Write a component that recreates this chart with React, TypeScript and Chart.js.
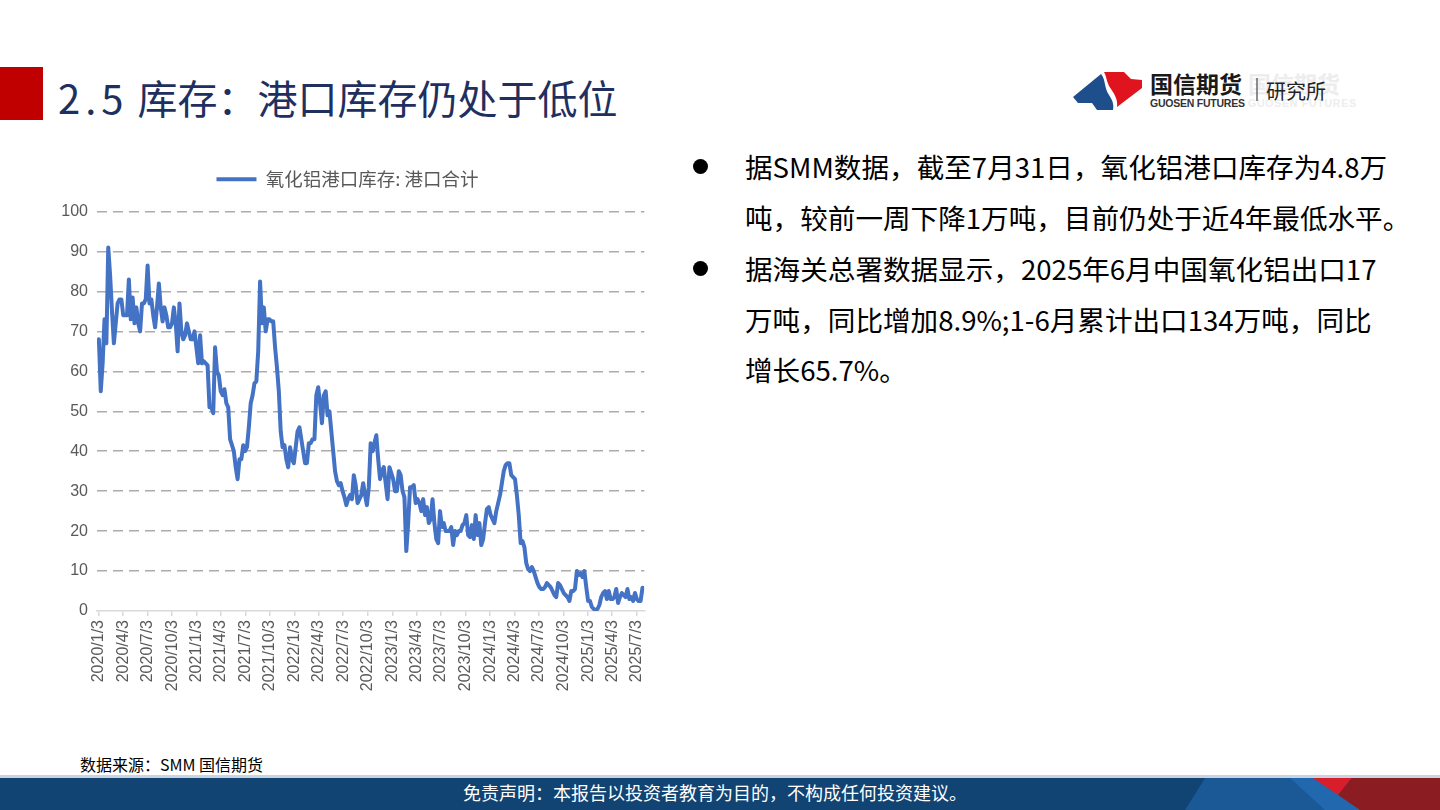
import React, { useEffect, useRef } from "react";
import { Chart, registerables } from "chart.js";

Chart.register(...registerables);

// ---- data (weekly, starting 2020/1/3) ----
const START_DATE = "2020/1/3";
const SERIES_NAME = "氧化铝港口库存: 港口合计";

const weeks2020 = [68, 55, 62, 73, 67, 91, 84, 75, 67, 72, 77, 78, 78, 74, 74, 74, 83, 73, 78.5, 72, 76, 72, 70, 77, 77, 78, 86.5, 77, 78, 74, 71, 76, 82, 76, 72.5, 76, 74, 71, 71, 72, 76, 72, 65, 77, 70, 68, 69, 72, 70, 68, 68, 70];
const weeks2021 = [66, 62, 69, 62, 62.5, 62, 61.5, 51, 51, 49.5, 66, 60, 59, 55, 54, 55.5, 52, 51, 43, 41.5, 40, 36, 33, 38, 38, 41.5, 40, 41, 46, 52, 54, 57, 57.5, 65, 82.5, 72, 76, 70, 73, 73, 72.5, 72.5, 66, 61, 55, 45, 41, 41.5, 38, 36, 41, 38];
const weeks2022 = [37, 41, 45, 46, 43, 40, 37, 37, 42, 42, 43, 43, 54, 56, 52, 47, 54, 55, 49, 50, 45, 40, 35, 32.5, 31.5, 32, 30, 28.5, 26.5, 28, 29, 28, 34, 31.5, 27, 28, 29, 32, 29, 26.5, 31, 42, 40, 42, 44, 38, 33, 35, 36, 32, 28, 36];
const weeks2023 = [34.5, 33, 30, 30, 35, 34, 30, 28.5, 15, 22, 31, 31, 31.5, 27, 28, 27, 25, 28, 24, 26, 22, 23, 28, 22, 18, 17, 25, 21, 22, 20, 20, 20, 21, 16.5, 20, 19, 20, 20, 21.5, 22, 24, 19, 18.5, 21.5, 18, 24, 19, 22, 16.5, 18, 22, 25.5];
const weeks2024 = [26, 24, 23, 22, 25, 27, 29, 32, 35, 36.5, 37, 37, 34, 33.5, 33, 29, 24, 17, 17.5, 16, 12, 10.5, 10, 11, 10, 8.5, 7, 6, 5.5, 5.5, 6, 7, 6.5, 6, 5, 4, 3.5, 7, 6.5, 5.5, 4.5, 4, 3.5, 2.5, 5, 5, 5.5, 10, 9, 9.5, 8.5, 10];
const weeks2025 = [6, 2.5, 2.5, 1, 0.5, 0.3, 0.5, 1.5, 3.5, 4.5, 5, 3, 5, 3, 3, 3.5, 5.5, 2, 3.5, 4.5, 4, 3.5, 5.5, 3, 3.5, 2.5, 4.5, 3, 2.5, 2.5, 5.8];

const X_TICK_LABELS = [
  "2020/1/3", "2020/4/3", "2020/7/3", "2020/10/3",
  "2021/1/3", "2021/4/3", "2021/7/3", "2021/10/3",
  "2022/1/3", "2022/4/3", "2022/7/3", "2022/10/3",
  "2023/1/3", "2023/4/3", "2023/7/3", "2023/10/3",
  "2024/1/3", "2024/4/3", "2024/7/3", "2024/10/3",
  "2025/1/3", "2025/4/3", "2025/7/3",
];
const Y_MIN = 0;
const Y_MAX = 100;
const Y_STEP = 10;

const toUTC = (s: string) => {
  const [y, m, d] = s.split("/").map(Number);
  return Date.UTC(y, m - 1, d);
};
const dayOffset = (s: string) => Math.round((toUTC(s) - toUTC(START_DATE)) / 86400000);

const allValues = [...weeks2020, ...weeks2021, ...weeks2022, ...weeks2023, ...weeks2024, ...weeks2025];
const points = allValues.map((v, i) => ({ x: i * 7, y: v }));
const tickDays = X_TICK_LABELS.map(dayOffset);

const FONT = '"Liberation Sans", "Noto Sans CJK SC", sans-serif';
const CJK = '"Noto Sans CJK SC", "Liberation Sans", sans-serif';

const legendGap = {
  id: "legendGap",
  beforeInit(chart: any) {
    const legend = chart.legend;
    if (!legend) return;
    const origFit = legend.fit;
    legend.fit = function () {
      origFit.call(this);
      this.height += 13;
    };
  },
};

function InventoryChart() {
  const ref = useRef<HTMLCanvasElement | null>(null);
  useEffect(() => {
    if (!ref.current) return;
    const chart = new Chart(ref.current, {
      type: "line",
      data: {
        datasets: [
          {
            label: SERIES_NAME,
            data: points,
            borderColor: "#4472C4",
            backgroundColor: "#4472C4",
            borderWidth: 4,
            pointRadius: 0,
            tension: 0,
            borderJoinStyle: "round",
            borderCapStyle: "round",
          },
        ],
      },
      plugins: [legendGap],
      options: {
        responsive: false,
        animation: false,
        layout: { padding: { left: 0, right: 15, top: 4, bottom: 0 } },
        plugins: {
          legend: {
            position: "top",
            labels: {
              usePointStyle: true,
              pointStyle: "line",
              pointStyleWidth: 40,
              color: "#595959",
              font: { size: 18.5, family: CJK },
              padding: 9,
            },
          },
          tooltip: { enabled: false },
        },
        scales: {
          x: {
            type: "linear",
            min: -7,
            max: 2037,
            afterBuildTicks: (s: any) => {
              s.ticks = tickDays.map((v) => ({ value: v }));
            },
            afterFit: (s: any) => {
              s.height = 96;
            },
            ticks: {
              autoSkip: false,
              maxRotation: 90,
              minRotation: 90,
              color: "#595959",
              padding: 4,
              font: { size: 16, family: FONT },
              callback: (_v: any, i: number) => X_TICK_LABELS[i],
            },
            grid: {
              drawOnChartArea: false,
              drawTicks: true,
              tickLength: 5,
              color: "#D9D9D9",
              lineWidth: 1.5,
            },
            border: { display: true, color: "#D9D9D9", width: 1.5 },
          },
          y: {
            min: Y_MIN,
            max: Y_MAX,
            afterFit: (s: any) => {
              s.width = 47;
            },
            ticks: {
              stepSize: Y_STEP,
              color: "#595959",
              padding: 9,
              font: { size: 16, family: FONT },
            },
            grid: {
              drawTicks: false,
              color: (ctx: any) => (ctx.tick && ctx.tick.value === 0 ? "rgba(0,0,0,0)" : "#ABABAB"),
              lineWidth: 1.5,
            },
            border: { display: false, dash: [10, 6] },
          },
        },
      },
    } as any);
    return () => chart.destroy();
  }, []);
  return (
    <canvas
      ref={ref}
      width={610}
      height={550}
      style={{ position: "absolute", left: 50, top: 157, width: 610, height: 550 }}
    />
  );
}

const bulletText = {
  position: "absolute" as const,
  left: 745,
  fontFamily: CJK,
  fontSize: 27.6,
  color: "#000",
  lineHeight: "50.5px",
  whiteSpace: "nowrap" as const,
};

function Bullet({ top }: { top: number }) {
  return (
    <div
      style={{
        position: "absolute",
        left: 693,
        top: top - 7,
        width: 15,
        height: 15,
        borderRadius: "50%",
        background: "#000",
      }}
    />
  );
}

export default function App() {
  return (
    <div
      style={{
        position: "fixed",
        left: 0,
        top: 0,
        width: 1440,
        height: 810,
        background: "#fff",
        overflow: "hidden",
      }}
    >
      {/* title */}
      <div style={{ position: "absolute", left: 0, top: 67, width: 43, height: 53, background: "#C00000" }} />
      <div
        style={{
          position: "absolute",
          left: 58,
          top: 70,
          fontFamily: CJK,
          fontSize: 40,
          lineHeight: "54px",
          color: "#1F3060",
          whiteSpace: "nowrap",
        }}
      >
        <span style={{ letterSpacing: 5 }}>2.5</span> 库存：港口库存仍处于低位
      </div>

      {/* logo */}
      <svg style={{ position: "absolute", left: 0, top: 0 }} width={1440} height={130}>
        <path d="M1073,97 L1101,74 C1106,80 1104,88 1109,95 C1113,101 1114,105 1113,110 L1097,110 L1092,103 L1078,103 Z" fill="#1F4E8C" />
        <path d="M1104,72 L1124,72 L1131,79 L1142,80 L1142,88 L1117,107 C1118,100 1115,95 1111,89 C1106,82 1107,77 1104,72 Z" fill="#E0141E" />
        <text x={1150} y={93} fontFamily={CJK} fontWeight={700} fontSize={23} fill="#1a1a1a">国信期货</text>
        <text x={1150} y={107} fontFamily={FONT} fontWeight={700} fontSize={10.5} fill="#333" textLength={95}>GUOSEN FUTURES</text>
        <text x={1248} y={93} fontFamily={CJK} fontWeight={700} fontSize={23} fill="#EDEDED">国信期货</text>
        <text x={1248} y={107} fontFamily={FONT} fontWeight={700} fontSize={10.5} fill="#EDEDED" textLength={108}>GUOSEN FUTURES</text>
        <line x1={1257} y1={78} x2={1257} y2={101} stroke="#444" strokeWidth={1.2} />
        <text x={1266} y={99} fontFamily={CJK} fontSize={20} fill="#222">研究所</text>
      </svg>

      <InventoryChart />

      {/* right text */}
      <Bullet top={166} />
      <div style={{ ...bulletText, top: 141 }}>
        据SMM数据，截至7月31日，氧化铝港口库存为4.8万
        <br />
        吨，较前一周下降1万吨，目前仍处于近4年最低水平。
      </div>
      <Bullet top={268} />
      <div style={{ ...bulletText, top: 243 }}>
        据海关总署数据显示，2025年6月中国氧化铝出口17
        <br />
        万吨，同比增加8.9%;1-6月累计出口134万吨，同比
        <br />
        增长65.7%。
      </div>

      {/* source */}
      <div
        style={{
          position: "absolute",
          left: 80,
          top: 752,
          fontFamily: CJK,
          fontSize: 16,
          color: "#000",
          whiteSpace: "nowrap",
        }}
      >
        数据来源：SMM 国信期货
      </div>

      {/* footer band */}
      <svg style={{ position: "absolute", left: 0, top: 775 }} width={1440} height={35}>
        <rect x={0} y={0} width={1440} height={3} fill="#C9D4E2" />
        <rect x={0} y={3} width={1440} height={32} fill="#114373" />
        <polygon points="1185,35 1205,3 1300,3 1335,35" fill="#1A5896" />
        <polygon points="1290,3 1330,3 1365,35 1325,35" fill="#2268AE" />
        <polygon points="1313,3 1352,3 1338,20" fill="#D81E2A" />
        <polygon points="1352,3 1440,3 1440,35 1360,35 1338,20" fill="#8B1D22" />
        <text x={715} y={25} textAnchor="middle" fontFamily={CJK} fontSize={18} fill="#fff">
          免责声明：本报告以投资者教育为目的，不构成任何投资建议。
        </text>
      </svg>
    </div>
  );
}
